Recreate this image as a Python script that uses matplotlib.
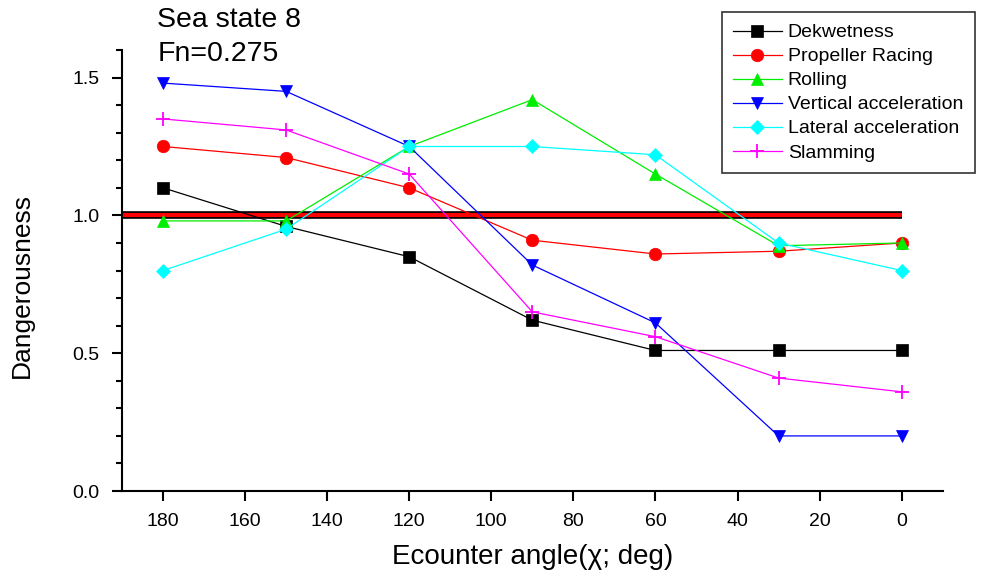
import matplotlib
matplotlib.use("Agg")
import matplotlib.pyplot as plt
from matplotlib.ticker import MultipleLocator, FormatStrFormatter

plt.rcParams['font.family'] = ['Liberation Sans', 'DejaVu Sans']

angles = [180, 150, 120, 90, 60, 30, 0]
dekwetness = [1.10, 0.96, 0.85, 0.62, 0.51, 0.51, 0.51]
propeller = [1.25, 1.21, 1.10, 0.91, 0.86, 0.87, 0.90]
rolling = [0.98, 0.98, 1.25, 1.42, 1.15, 0.89, 0.90]
vertical = [1.48, 1.45, 1.25, 0.82, 0.61, 0.20, 0.20]
lateral = [0.80, 0.95, 1.25, 1.25, 1.22, 0.90, 0.80]
slamming = [1.35, 1.31, 1.15, 0.65, 0.56, 0.41, 0.36]
threshold = 1.0

series = [
    ("Dekwetness", dekwetness, "black", "s", 8),
    ("Propeller Racing", propeller, "red", "o", 9),
    ("Rolling", rolling, "#00ee00", "^", 9),
    ("Vertical acceleration", vertical, "blue", "v", 9),
    ("Lateral acceleration", lateral, "cyan", "D", 7),
    ("Slamming", slamming, "magenta", "+", 10),
]

fig = plt.figure(figsize=(9.84, 5.75), dpi=100)
ax = fig.add_axes([0.124, 0.146, 0.834, 0.767])

ax.plot([190, 0], [threshold, threshold], color="black", lw=5.5, solid_capstyle="butt", zorder=2)
ax.plot([190, 0], [threshold, threshold], color="red", lw=3, solid_capstyle="butt", zorder=2.1)

for name, vals, col, mk, ms in series:
    ax.plot(angles, vals, color=col, lw=0.9, marker=mk, markersize=ms,
            markerfacecolor=col, markeredgecolor=col, markeredgewidth=1.3 if mk == "+" else 0.5,
            label=name, zorder=3)

ax.set_xlim(190, -10)
ax.set_ylim(0, 1.6)
ax.xaxis.set_major_locator(MultipleLocator(20))
ax.yaxis.set_major_locator(MultipleLocator(0.5))
ax.yaxis.set_minor_locator(MultipleLocator(0.1))
ax.yaxis.set_major_formatter(FormatStrFormatter('%.1f'))
for s in ("top", "right"):
    ax.spines[s].set_visible(False)
for s in ("left", "bottom"):
    ax.spines[s].set_linewidth(1.5)
ax.tick_params(axis="both", which="major", direction="out", length=7, width=1.5, labelsize=14, pad=9)
ax.tick_params(axis="y", which="minor", direction="out", length=4, width=1.5)

ax.set_xlabel("Ecounter angle(χ; deg)", fontsize=20, labelpad=10)
ax.set_ylabel("Dangerousness", fontsize=19)
ax.yaxis.set_label_coords(-0.108, 0.467)

fig.text(0.160, 0.966, "Sea state 8", fontsize=20.5, va="center", ha="left")
fig.text(0.160, 0.906, "Fn=0.275", fontsize=20.5, va="center", ha="left")

leg = ax.legend(loc="upper right", bbox_to_anchor=(1.039, 1.086), borderaxespad=0, fontsize=14,
                frameon=True, fancybox=False, edgecolor="black", handlelength=2.5,
                borderpad=0.6, labelspacing=0.33, handletextpad=0.3)
leg.get_frame().set_linewidth(1.2)

fig.savefig("out.png", dpi=100)
